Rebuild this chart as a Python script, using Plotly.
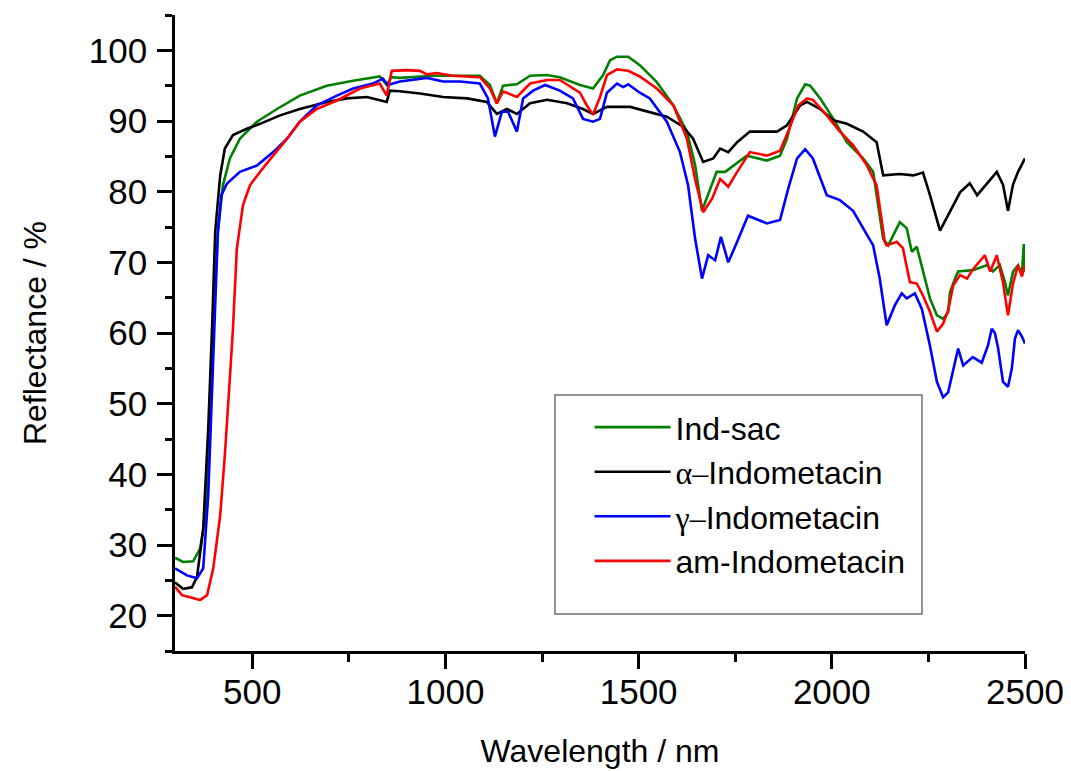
import plotly.graph_objects as go

# ---- data (wavelength nm, reflectance %) ----
indsac_x = [300, 321, 347, 365, 378, 390, 398, 411, 424, 442, 468, 512, 564, 623, 693, 761, 830, 848, 860, 882,
            968, 1089, 1115, 1133, 1149, 1185, 1219, 1263, 1296, 1348, 1382, 1400, 1408, 1426, 1444, 1473, 1503,
            1547, 1590, 1625, 1646, 1664, 1680, 1702, 1724, 1745, 1780, 1832, 1866, 1884, 1910, 1931, 1944, 1970,
            2004, 2039, 2081, 2107, 2133, 2146, 2176, 2194, 2207, 2220, 2236, 2254, 2272, 2288, 2301, 2306, 2319,
            2327, 2365, 2401, 2417, 2435, 2448, 2456, 2469, 2482, 2492, 2497, 2500]
indsac_y = [28.2, 27.6, 27.7, 29.5, 33.8, 46.5, 60.4, 74.3, 80.9, 84.7, 87.5, 89.9, 91.7, 93.6, 95.0, 95.7, 96.3,
            95.1, 96.2, 96.1, 96.4, 96.4, 95.1, 92.5, 95.0, 95.2, 96.4, 96.5, 96.2, 95.1, 94.6, 96.0, 96.5, 98.6,
            99.1, 99.1, 97.9, 95.5, 92.2, 88.5, 83.8, 77.3, 79.5, 82.8, 82.8, 83.7, 85.1, 84.4, 85.1, 87.5, 93.2,
            95.2, 95.0, 93.2, 90.3, 87.0, 84.7, 82.8, 73.3, 72.4, 75.7, 74.8, 71.5, 72.2, 68.7, 64.9, 62.5, 62.0,
            62.9, 65.8, 67.7, 68.7, 68.9, 69.6, 68.7, 69.6, 67.2, 65.3, 68.7, 69.6, 68.3, 72.6, 68.7]

alpha_x = [300, 321, 344, 357, 373, 386, 396, 404, 417, 429, 450, 486, 520, 572, 623, 693, 745, 797, 848, 856,
           882, 934, 994, 1056, 1107, 1133, 1159, 1185, 1219, 1263, 1315, 1356, 1382, 1418, 1478, 1529, 1573,
           1615, 1641, 1667, 1693, 1711, 1732, 1755, 1788, 1858, 1884, 1918, 1936, 1970, 2004, 2039, 2081, 2116,
           2133, 2176, 2211, 2236, 2254, 2280, 2306, 2332, 2357, 2376, 2401, 2427, 2443, 2456, 2469, 2482, 2500]
alpha_y = [24.7, 23.8, 24.0, 25.5, 32.3, 46.5, 60.8, 74.3, 82.3, 86.1, 88.0, 88.9, 89.6, 90.8, 91.7, 92.7, 93.2,
           93.4, 92.7, 94.3, 94.2, 93.9, 93.4, 93.2, 92.7, 91.0, 91.7, 91.0, 92.5, 93.0, 92.5, 91.7, 91.0, 92.0,
           92.0, 91.3, 90.6, 89.2, 87.5, 84.2, 84.7, 86.1, 85.6, 87.0, 88.5, 88.5, 89.4, 92.2, 92.7, 91.7, 90.1,
           89.6, 88.5, 87.0, 82.3, 82.5, 82.3, 82.7, 79.5, 74.5, 77.1, 79.9, 81.2, 79.5, 81.1, 82.8, 81.0, 77.3,
           81.0, 82.8, 84.7]

gamma_x = [300, 331, 357, 373, 386, 396, 404, 411, 420, 434, 468, 512, 554, 590, 623, 667, 719, 761, 812, 838,
           851, 882, 952, 994, 1038, 1089, 1110, 1128, 1146, 1162, 1185, 1201, 1227, 1258, 1296, 1330, 1356, 1382,
           1400, 1418, 1444, 1460, 1473, 1503, 1529, 1573, 1607, 1628, 1646, 1664, 1680, 1698, 1713, 1732, 1755,
           1783, 1832, 1866, 1887, 1910, 1931, 1951, 1987, 2021, 2055, 2081, 2107, 2124, 2142, 2163, 2181, 2194,
           2215, 2233, 2254, 2272, 2288, 2301, 2314, 2327, 2340, 2365, 2388, 2404, 2414, 2422, 2430, 2443, 2456,
           2466, 2474, 2482, 2492, 2500]
gamma_y = [26.7, 25.7, 25.3, 26.7, 37.0, 51.2, 62.0, 74.3, 79.5, 81.1, 82.8, 83.7, 85.6, 87.5, 89.9, 92.2, 93.6,
           94.6, 95.3, 96.0, 95.1, 95.6, 96.1, 95.6, 95.6, 95.3, 93.2, 87.8, 91.3, 91.3, 88.5, 93.2, 94.3, 95.1,
           94.3, 93.2, 90.3, 89.9, 90.3, 94.0, 95.3, 94.8, 95.2, 94.0, 93.2, 89.9, 85.6, 80.9, 73.4, 67.7, 71.0,
           70.3, 73.6, 70.0, 72.9, 76.6, 75.5, 76.0, 80.4, 84.7, 86.0, 84.7, 79.5, 78.8, 77.3, 74.8, 72.4, 67.7,
           61.1, 63.9, 65.6, 64.9, 65.6, 63.4, 58.2, 53.1, 50.9, 51.6, 54.5, 57.8, 55.4, 56.6, 55.8, 58.2, 60.6,
           60.0, 58.0, 53.1, 52.4, 55.0, 59.2, 60.4, 59.5, 58.5]

am_x = [300, 318, 339, 365, 383, 399, 417, 429, 442, 450, 460, 476, 494, 520, 554, 590, 623, 667, 719, 779, 830,
        848, 861, 900, 934, 952, 978, 1019, 1089, 1115, 1133, 1149, 1185, 1219, 1263, 1296, 1348, 1366, 1382, 1400,
        1418, 1444, 1473, 1503, 1547, 1590, 1625, 1646, 1667, 1690, 1711, 1732, 1755, 1788, 1832, 1866, 1887, 1913,
        1936, 1951, 1987, 2021, 2055, 2090, 2116, 2137, 2142, 2168, 2184, 2202, 2220, 2236, 2254, 2272, 2288, 2301,
        2314, 2332, 2350, 2365, 2396, 2410, 2427, 2443, 2456, 2469, 2482, 2492, 2500]
am_y = [24.1, 22.9, 22.6, 22.2, 22.9, 26.7, 34.2, 42.7, 53.6, 60.6, 71.9, 78.1, 80.9, 82.8, 85.1, 87.5, 89.9, 91.7,
        92.9, 94.6, 95.3, 93.6, 97.1, 97.2, 97.1, 96.6, 96.8, 96.4, 96.2, 94.6, 92.5, 94.2, 93.4, 95.3, 95.8, 95.8,
        94.0, 92.2, 90.9, 93.4, 96.5, 97.3, 97.1, 96.3, 94.6, 92.2, 87.5, 81.8, 77.1, 79.0, 81.8, 80.7, 82.8, 85.6,
        85.1, 85.8, 88.5, 92.2, 93.2, 93.0, 90.8, 88.5, 86.6, 83.8, 80.9, 72.9, 72.4, 72.9, 72.0, 67.2, 67.0, 65.3,
        63.0, 60.2, 61.3, 63.2, 66.7, 68.2, 67.7, 69.0, 71.0, 68.7, 71.0, 67.2, 62.5, 67.0, 69.6, 68.0, 69.6]

names = ["Ind-sac",
         "<span style=\"font-family:'Liberation Serif', 'Times New Roman', serif\">α–</span>Indometacin",
         "<span style=\"font-family:'Liberation Serif', 'Times New Roman', serif\">γ–</span>Indometacin",
         "am-Indometacin"]
colors = ["#008000", "#000000", "#0000FF", "#FF0000"]
series = [(indsac_x, indsac_y), (alpha_x, alpha_y), (gamma_x, gamma_y), (am_x, am_y)]

FONT = "Arial, 'Liberation Sans', sans-serif"

fig = go.Figure()
for (xs, ys), nm, col in zip(series, names, colors):
    fig.add_trace(go.Scatter(x=xs, y=ys, mode="lines", name=nm,
                             line=dict(color=col, width=2.6)))

axis_common = dict(showline=True, linecolor="black", linewidth=2.5, ticks="outside",
                   tickcolor="black", tickwidth=2.5, ticklen=15, showgrid=False, zeroline=False,
                   tickfont=dict(family=FONT, size=35, color="black"), mirror=False, automargin=False)

# page body has an 8px margin, so the figure is 8px smaller and offset accordingly
fig.update_layout(
    width=1063, height=763,
    margin=dict(l=167, r=46, t=7, b=120),
    paper_bgcolor="white", plot_bgcolor="white",
    font=dict(family=FONT, color="black"),
    xaxis=dict(range=[300, 2500], tick0=0, dtick=500,
               minor=dict(ticks="outside", ticklen=8, tickwidth=2.5, tickcolor="black", dtick=250, tick0=0),
               title=dict(text="Wavelength / nm", font=dict(family=FONT, size=32), standoff=30),
               ticklabelstandoff=-7,
               **axis_common),
    yaxis=dict(range=[15, 105], tick0=0, dtick=10,
               minor=dict(ticks="outside", ticklen=7, tickwidth=2.5, tickcolor="black", dtick=5, tick0=0),
               title=dict(text="Reflectance / %", font=dict(family=FONT, size=32), standoff=33),
               ticklabelstandoff=3,
               **axis_common),
    legend=dict(x=0.4877, y=0.395, xanchor="left", yanchor="top", bgcolor="rgba(0,0,0,0)",
                borderwidth=0, font=dict(family=FONT, size=32, color="black"), itemwidth=76,
                tracegroupgap=0),
    shapes=[dict(type="rect", xref="paper", yref="paper", x0=0.447, x1=0.8788, y0=0.0582, y1=0.4025,
                 line=dict(color="#6e6e6e", width=1.5), fillcolor="rgba(0,0,0,0)", layer="above")],
)

fig.write_html("out.html")
